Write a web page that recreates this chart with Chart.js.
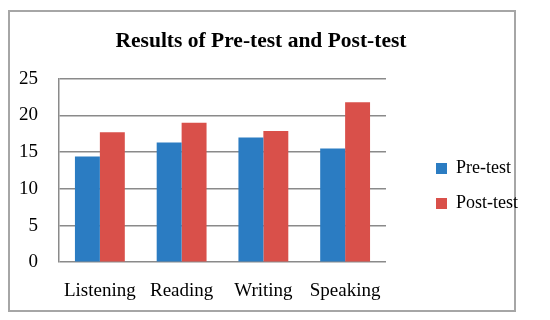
<!DOCTYPE html>
<html>
<head>
<meta charset="utf-8">
<script src="https://cdn.jsdelivr.net/npm/chart.js@4"></script>
<style>
  body { margin: 0; background: #fff; }
  #frame { position: absolute; left: 8px; top: 10px; width: 504px; height: 298px; border: 2px solid #a6a6a6; }
  #chart { position: absolute; left: 0; top: 0; }
</style>
</head>
<body>
<div id="frame"></div>
<canvas id="chart" width="550" height="320"></canvas>
<script>
const skills = ['Listening', 'Reading', 'Writing', 'Speaking'];
const preTest = [14.4, 16.3, 17.0, 15.5];
const postTest = [17.7, 19.0, 17.9, 21.8];
const yTicks = [0, 5, 10, 15, 20, 25];

const serif = "'Liberation Serif', 'DejaVu Serif', serif";

// title in the original sits a bit left of the canvas centre
const titleShift = {
    id: 'titleShift',
    afterLayout(chart) {
        chart.titleBlock.right -= 22;
    }
};

document.addEventListener("DOMContentLoaded", function() {
    const ctx = document.getElementById('chart').getContext('2d');

    new Chart(ctx, {
        type: 'bar',
        data: {
            labels: skills,
            datasets: [
                {
                    label: 'Pre-test',
                    data: preTest,
                    backgroundColor: '#2b7cc2',
                    borderWidth: 0
                },
                {
                    label: 'Post-test',
                    data: postTest,
                    backgroundColor: '#d9504a',
                    borderWidth: 0
                }
            ]
        },
        plugins: [titleShift],
        options: {
            responsive: false,
            animation: false,
            categoryPercentage: 0.61,
            barPercentage: 1,
            layout: { padding: { left: 16, right: 22, bottom: 15 } },
            plugins: {
                title: {
                    display: true,
                    text: 'Results of Pre-test and Post-test',
                    color: '#000',
                    font: { family: serif, size: 21.5, weight: 'bold' },
                    padding: { top: 29, bottom: 24 }
                },
                legend: {
                    position: 'right',
                    maxWidth: 200,
                    title: {
                        display: true,
                        text: ' ',
                        font: { size: 10 },
                        padding: { top: 0, bottom: 55 }
                    },
                    labels: {
                        color: '#000',
                        font: { family: serif, size: 18 },
                        boxWidth: 11,
                        boxHeight: 11,
                        padding: 17
                    }
                },
                tooltip: { enabled: false }
            },
            scales: {
                x: {
                    grid: { display: false, drawTicks: true, tickLength: 14 },
                    border: { display: false },
                    ticks: {
                        color: '#000',
                        font: { family: serif, size: 19 },
                        padding: 3,
                        maxRotation: 0
                    }
                },
                y: {
                    min: 0,
                    max: 25,
                    afterBuildTicks: function(scale) {
                        scale.ticks = yTicks.map(v => ({ value: v }));
                    },
                    grid: { color: '#8a8a8a', lineWidth: 1.5, tickLength: 18, tickColor: 'rgba(0,0,0,0)' },
                    border: { display: true, color: '#8a8a8a', width: 1.5 },
                    ticks: {
                        color: '#000',
                        font: { family: serif, size: 19 },
                        padding: 3
                    }
                },
                gap: {
                    position: 'right',
                    display: true,
                    grid: { display: false },
                    border: { display: false },
                    ticks: { display: false },
                    afterFit: function(scale) { scale.width = 33; }
                }
            }
        }
    });
});
</script>
</body>
</html>
